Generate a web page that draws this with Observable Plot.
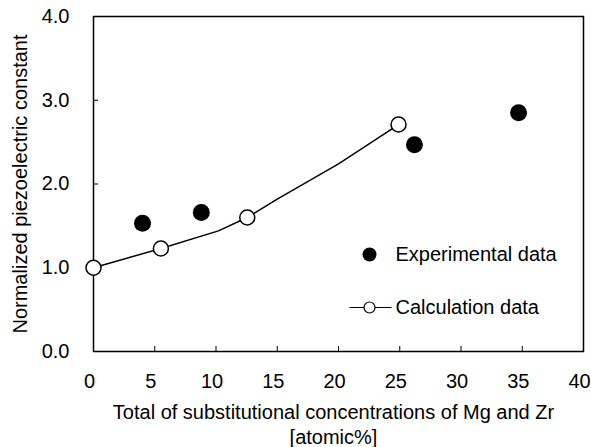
<!DOCTYPE html>
<html>
<head>
<meta charset="utf-8">
<script src="https://cdn.jsdelivr.net/npm/d3@7"></script>
<script src="https://cdn.jsdelivr.net/npm/@observablehq/plot@0.6"></script>
<style>
  html, body { margin: 0; padding: 0; background: #fff; }
  #chart svg { display: block; }
  #chart svg, #chart svg text { font-family: 'Liberation Sans', Arial, sans-serif !important; }
</style>
</head>
<body>
<div id="chart"></div>
<script>
// Calculation data: line path (incl. intermediate computed points) and markers
const calcLineX = [0, 5.5, 10.2, 12.55, 15, 20, 24.9];
const calcLineY = [1.0, 1.23, 1.44, 1.6, 1.82, 2.24, 2.71];
const calcPointX = [0, 5.5, 12.55, 24.9];
const calcPointY = [1.0, 1.23, 1.6, 2.71];
// Experimental data
const expX = [4.0, 8.8, 26.2, 34.7];
const expY = [1.53, 1.66, 2.47, 2.85];
// Ticks
const xTicks = [0, 5, 10, 15, 20, 25, 30, 35, 40];
const yTicks = [0, 1, 2, 3, 4];
const xInnerTicks = [5, 10, 15, 20, 25, 30, 35];
const yInnerTicks = [1, 2, 3];
// Texts
const xTitle = "Total of substitutional concentrations of Mg and Zr\n[atomic%]";
const yTitle = "Normalized piezoelectric constant";
const legendLabels = ["Experimental data", "Calculation data"];

const calcLine = calcLineX.map((x, i) => ({x, y: calcLineY[i]}));
const calcPts = calcPointX.map((x, i) => ({x, y: calcPointY[i]}));
const expPts = expX.map((x, i) => ({x, y: expY[i]}));

const W = 591, H = 447;
const mL = 93, mR = 8, mT = 16, mB = 96;
const fw = W - mL - mR, fh = H - mT - mB;
const FONT = "'Liberation Sans', Arial, sans-serif";

const hline = {draw(ctx) { ctx.moveTo(-21, 0); ctx.lineTo(21, 0); }};

const chart = Plot.plot({
  width: W,
  height: H,
  marginLeft: mL, marginRight: mR, marginTop: mT, marginBottom: mB,
  style: {fontFamily: FONT, color: "#000", background: "#fff"},
  x: {domain: [0, 40]},
  y: {domain: [0, 4]},
  marks: [
    // inward ticks
    Plot.tickX(xInnerTicks, {x: d => d, insetTop: fh - 5, stroke: "#000", strokeWidth: 1}),
    Plot.tickY(yInnerTicks, {y: d => d, insetRight: fw - 5, stroke: "#000", strokeWidth: 1}),
    // tick labels
    Plot.axisX({ticks: xTicks, tickSize: 0, tickPadding: 22, label: null, fontSize: 20, dx: -4, tickFormat: d => String(d)}),
    Plot.axisY({ticks: yTicks, tickSize: 0, tickPadding: 24, label: null, fontSize: 20, tickFormat: d => d.toFixed(1)}),
    // axis titles
    Plot.text([xTitle], {text: d => d, frameAnchor: "bottom", textAnchor: "middle", lineAnchor: "top", dy: 50, dx: -5, fontSize: 20, lineHeight: 1.25, fill: "#000"}),
    Plot.text([yTitle], {text: d => d, frameAnchor: "left", textAnchor: "middle", lineAnchor: "middle", rotate: -90, dx: -73, fontSize: 20, fill: "#000"}),
    // frame
    Plot.frame({stroke: "#000", strokeWidth: 1.5}),
    // calculation line + markers
    Plot.line(calcLine, {x: "x", y: "y", stroke: "#000", strokeWidth: 1.5}),
    Plot.dot(calcPts, {x: "x", y: "y", r: 7.5, fill: "#fff", stroke: "#000", strokeWidth: 1.5}),
    // experimental
    Plot.dot(expPts, {x: "x", y: "y", r: 8.5, fill: "#000", stroke: "none"}),
    // legend
    Plot.dot([legendLabels[0]], {frameAnchor: "top-left", dx: 276, dy: 238, r: 7, fill: "#000"}),
    Plot.text([legendLabels[0]], {text: d => d, frameAnchor: "top-left", dx: 302, dy: 238, textAnchor: "start", lineAnchor: "middle", fontSize: 20, fill: "#000"}),
    Plot.dot([legendLabels[1]], {frameAnchor: "top-left", dx: 277, dy: 291, symbol: hline, stroke: "#000", strokeWidth: 1.2}),
    Plot.dot([legendLabels[1]], {frameAnchor: "top-left", dx: 276, dy: 291, r: 5.5, fill: "#fff", stroke: "#000", strokeWidth: 1.2}),
    Plot.text([legendLabels[1]], {text: d => d, frameAnchor: "top-left", dx: 302, dy: 291, textAnchor: "start", lineAnchor: "middle", fontSize: 20, fill: "#000"})
  ]
});
document.getElementById("chart").appendChild(chart);
</script>
</body>
</html>
